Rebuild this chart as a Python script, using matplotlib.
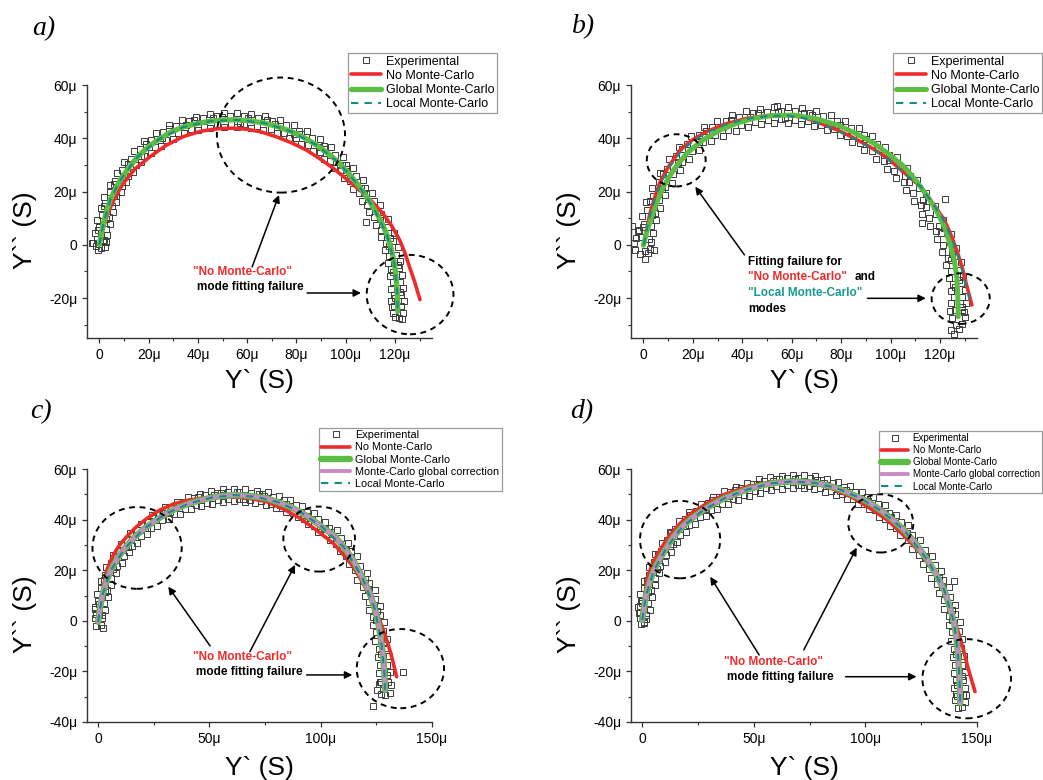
import numpy as np
import matplotlib
matplotlib.use("Agg")
import matplotlib.pyplot as plt
from matplotlib.patches import Ellipse
from matplotlib.ticker import MultipleLocator, FuncFormatter

plt.rcParams['font.family'] = ['Liberation Sans', 'DejaVu Sans']

W, H = 1043, 780

# =========================
# Data (values in micro-Siemens)
# =========================
# --- panel a ---
exp_a = [(-2.5, 0.5), (2.3, -0.8), (-0.5, -1.8), (1.5, 1.5), (-3.1, 0.6), (0.8, -1.2), (-1.5, -0.5), (2.6, 0.9),
         (-1.8, 4.5), (3.2, 3.5), (-0.4, 5.4), (-0.8, 9.2), (4.2, 7.9), (2.9, 9.6),
         (0.5, 13.9), (5.4, 12.2), (1.7, 14.6), (2.1, 18.1), (6.8, 15.9), (5.8, 18.2),
         (4.2, 22.4), (8.6, 19.7), (5.8, 22.7), (7.0, 26.8), (10.9, 23.4), (10.2, 25.6),
         (10.1, 30.9), (13.8, 27.2), (11.5, 30.5), (13.9, 35.2), (17.0, 31.0), (16.9, 33.5),
         (18.1, 38.8), (20.8, 34.3), (19.0, 37.9), (22.9, 41.9), (25.0, 37.2), (25.4, 40.2),
         (28.2, 44.8), (29.8, 39.9), (28.3, 43.5), (33.4, 46.8), (34.5, 41.8), (35.3, 44.9),
         (39.1, 48.1), (39.9, 43.1), (38.6, 46.7), (44.8, 49.1), (45.1, 43.9), (46.2, 47.6),
         (50.4, 49.6), (50.6, 44.4), (49.7, 48.0), (56.0, 49.5), (56.0, 44.3), (57.2, 45.7),
         (61.6, 49.2), (61.4, 44.0), (60.4, 47.7), (67.4, 48.4), (66.6, 43.2), (68.2, 46.8),
         (73.2, 46.9), (71.9, 41.8), (71.3, 45.4), (79.0, 45.1), (77.1, 40.1), (79.1, 41.6),
         (84.2, 42.7), (81.9, 38.0), (82.0, 41.5), (89.5, 39.8), (86.6, 35.3), (89.1, 36.7),
         (94.1, 36.7), (91.0, 32.4), (91.6, 35.8), (98.8, 33.0), (95.3, 29.0), (98.3, 30.0),
         (102.9, 28.9), (99.2, 25.2), (100.2, 28.3), (107.1, 24.2), (103.0, 20.9), (106.3, 21.5),
         (110.7, 19.5), (106.4, 16.6), (107.6, 19.3), (113.8, 14.9), (109.3, 12.2), (112.8, 12.6),
         (117.0, 9.6), (112.2, 7.5), (113.7, 9.9), (119.4, 4.3), (114.4, 2.8), (118.1, 2.6),
         (121.1, -1.0), (116.0, -2.0), (117.4, -0.3), (122.2, -6.2), (117.1, -6.8), (121.0, -7.6),
         (123.0, -11.3), (117.9, -11.7), (119.3, -10.3), (123.4, -16.4), (118.3, -16.6), (122.0, -17.6),
         (123.6, -21.0), (118.5, -21.0), (119.8, -19.9), (123.3, -25.8), (119.0, -25.5), (121.5, -27.5),
         (120.0, -27.2), (122.5, -23.5), (118.6, -23.2), (122.8, -28.0), (108.2, 8.7),
         (-1.1, 2.3), (1.9, 1.7), (-0.2, 6.6), (2.8, 5.9), (0.9, 11.2), (3.9, 10.3), (2.4, 15.6), (5.1, 14.4),
         (4.2, 19.7), (6.8, 18.3), (6.5, 23.9), (9.0, 22.1), (9.4, 28.0), (11.6, 26.0), (12.8, 32.1), (14.7, 29.9),
         (16.7, 36.0), (18.3, 33.5), (21.1, 39.3), (22.4, 36.7), (26.0, 42.3), (27.0, 39.5), (31.1, 44.7),
         (31.9, 41.8), (36.5, 46.3), (37.0, 43.4), (42.1, 47.5), (42.4, 44.4), (47.7, 48.2), (47.8, 45.1),
         (53.2, 48.4), (53.3, 45.4), (58.8, 48.2), (58.7, 45.2), (64.4, 47.6), (64.1, 44.6), (70.0, 46.5),
         (69.5, 43.5), (75.7, 44.8), (74.8, 42.0), (81.1, 42.8), (79.9, 40.0), (86.3, 40.2), (84.7, 37.6),
         (91.1, 37.2), (89.4, 34.8), (95.7, 33.9), (93.8, 31.6), (100.0, 30.1), (98.0, 27.9), (104.1, 25.7),
         (101.9, 23.8), (108.0, 21.2), (105.5, 19.3), (111.3, 16.5), (108.7, 15.0), (114.4, 11.7), (111.6, 10.3),
         (117.1, 6.5), (114.2, 5.5), (119.1, 1.4), (116.2, 0.6), (120.5, -3.8), (117.6, -4.2), (121.5, -8.9),
         (118.5, -9.1), (122.1, -14.0), (119.1, -14.0), (122.4, -18.7), (119.4, -18.8), (122.5, -23.0), (119.6, -23.0)]
red_a = [(0, 0), (1.5, 6), (3.5, 12), (6.5, 18), (10, 23.5), (14.5, 28.5), (20.6, 33.1), (27, 37.3),
         (34, 40.6), (41, 42.6), (48, 43.6), (54, 43.8), (60, 43.4), (66, 42.3), (72, 40.5), (78, 38.3),
         (84, 35.6), (90, 32), (95, 28.7), (100, 24.9), (105.6, 20.6), (110.5, 16.3), (115, 11.9),
         (118.7, 7), (121.8, 1.9), (124, -3), (125.8, -8.1), (128, -14), (130.1, -20.6)]
green_a = [(0, 0), (0.8, 4), (1.8, 8.5), (3, 13), (4.5, 17), (6.5, 21), (9, 25), (12, 29), (15.5, 33),
           (19.5, 36.5), (24, 39.5), (29, 42.3), (34, 44.2), (39.5, 45.5), (45, 46.4), (50.5, 46.9),
           (56, 46.9), (61.5, 46.5), (67, 45.7), (72.5, 44.3), (78, 42.5), (83, 40.3), (88, 37.5),
           (92.5, 34.5), (97, 31), (101, 27), (105, 22.5), (108.5, 18), (111.5, 13.5), (114.5, 8.5),
           (116.8, 3.5), (118.5, -1.5), (119.6, -6.5), (120.4, -11.5), (120.8, -16.5), (121, -21), (121.1, -25)]
teal_a = [(0, 0), (1.8, 8.5), (4.5, 17), (9, 25), (15.5, 33), (24, 39.5), (34, 44.2), (45, 46.4),
          (56, 46.9), (67, 45.7), (78, 42.5), (88, 37.5), (97, 31), (105, 22.5), (111.5, 13.5),
          (116.8, 3.5), (119.6, -6.5), (120.8, -16.5), (121.1, -25)]

# --- panel b ---
exp_b = [(-3.5, -2), (-2.8, 2.5), (-1.5, -3.5), (0.5, -5.5), (2.5, -1.5), (1.8, -3), (-4.5, 7.2), (-2, 5),
         (3, 1), (-3.8, 0.5), (0.8, -2.2), (4.2, -1.8),
         (-1.9, 5.6), (3.9, 4.4), (0, 6.8), (-0.6, 10.8), (5.2, 9.2), (3.6, 11.3),
         (1.2, 16.1), (6.8, 13.9), (2.7, 16.6), (3.6, 21.4), (8.8, 18.6), (7.7, 21),
         (6.6, 26.8), (11.4, 23.2), (8, 26.5), (10.3, 32.1), (14.7, 27.9), (14, 30.6),
         (14.6, 36.8), (18.4, 32.2), (15.6, 35.9), (19.4, 40.9), (22.6, 35.7), (22.5, 38.5),
         (24.7, 44.2), (27.3, 38.8), (25.2, 42.8), (29.9, 46.6), (32.1, 41), (32.4, 44.3),
         (35.7, 48.6), (37.3, 42.8), (35.6, 46.9), (41.5, 50.1), (42.5, 44.3), (43.3, 48),
         (47.2, 51.1), (47.8, 45.3), (46.4, 49.3), (53, 51.6), (53, 45.8), (54.3, 49.9), (54, 52.3),
         (58.5, 51.7), (58.5, 45.9), (57.3, 47.5), (64.2, 51.3), (63.8, 45.5), (65.2, 49.6),
         (70, 50.3), (69, 44.5), (68.3, 48.6), (75.8, 48.6), (74.2, 43), (76.2, 44.7),
         (81.6, 46.5), (79.4, 41.1), (79.5, 45.1), (87.4, 43.8), (84.6, 38.6), (87.2, 40.2),
         (92.7, 40.7), (89.3, 35.7), (90, 39.6), (97.9, 36.9), (94.1, 32.3), (97.3, 33.6),
         (102.5, 33), (98.5, 28.6), (99.3, 32), (106.7, 29), (102.3, 25), (105.9, 25.8),
         (110.8, 24.4), (106.2, 20.6), (107.3, 23.7), (114.5, 19.6), (109.5, 16.4), (113.3, 16.8),
         (118.1, 14.7), (112.9, 11.7), (114.3, 14.3), (121.2, 9.4), (115.8, 7), (119.8, 7.1),
         (124.3, 4), (118.7, 2), (120.3, 4.3), (126.7, -1.3), (120.9, -2.7), (125, -3.2),
         (128.4, -6.5), (122.6, -7.5), (124.3, -5.8), (129.4, -11.7), (123.6, -12.3), (127.8, -13.2),
         (130.1, -16.8), (124.3, -17.2), (125.9, -15.8), (130.4, -22), (124.6, -22), (128.8, -23.2),
         (125, -27.5), (130, -27), (126.5, -30), (128.8, -29.8), (124.5, -32), (127.7, -31.5),
         (125.8, -33.5), (129.6, -25.2), (124.2, -25), (112.7, 8.3), (122.2, 17.2),
         (-1.1, 2.8), (2.1, 2.2), (0.1, 7.9), (3.2, 7.1), (1.6, 13), (4.7, 12), (3.7, 18.2), (6.5, 16.8),
         (6.3, 23.4), (8.9, 21.6), (9.5, 28.5), (12, 26.5), (13.4, 33.4), (15.6, 31.1), (17.8, 37.7),
         (19.7, 35.1), (22.7, 41.3), (24.3, 38.5), (27.9, 44.1), (29.1, 41.2), (33.3, 46.3), (34.2, 43.2),
         (38.9, 48), (39.6, 44.9), (44.5, 49.3), (45, 46.1), (50.2, 50), (50.3, 46.9), (55.8, 50.3),
         (55.7, 47.2), (61.3, 50.2), (61.2, 47), (67, 49.5), (66.5, 46.3), (72.6, 48.2), (71.9, 45),
         (78.3, 46.3), (77.2, 43.3), (83.9, 44), (82.6, 41), (89.3, 41.1), (87.7, 38.3), (94.4, 37.7),
         (92.6, 35.1), (99.3, 33.9), (97.2, 31.5), (103.6, 30), (101.4, 27.8), (107.7, 25.8), (105.3, 23.7),
         (111.5, 21.2), (109, 19.3), (115.1, 16.4), (112.4, 14.8), (118.4, 11.4), (115.6, 10), (121.5, 6.2),
         (118.5, 5), (124.2, 0.9), (121.1, 0.1), (126.2, -4.2), (123.1, -4.8), (127.6, -9.3), (124.4, -9.7),
         (128.5, -14.4), (125.3, -14.6), (129, -19.5), (125.8, -19.5), (129.1, -24.5), (125.9, -24.5)]
red_b = [(0.3, 0), (1.2, 5.5), (2.7, 11.8), (4.5, 17.5), (6.8, 23.7), (10.3, 29.5), (14.9, 35.6), (20, 39.5),
         (25.7, 42.5), (33, 45.3), (42, 47.5), (50, 48.5), (58.2, 48.7), (65, 47.8), (71.7, 45.6), (78, 43.3),
         (85, 40.2), (92, 36.6), (98.8, 32.5), (105, 27.5), (112.3, 21.8), (117, 15.8), (121.8, 9.3),
         (124.8, 3), (127.2, -3.2), (129, -8.5), (130.6, -14.5), (132.9, -22.6)]
green_b = [(0, -0.2), (1.5, 5.2), (3.4, 10.6), (5.6, 16.3), (8.1, 21.8), (12.5, 28.5), (17.6, 34.4),
           (24, 39.3), (31.1, 43.1), (38, 45.7), (44.7, 47.5), (52, 48.5), (60.9, 48.7), (70, 47.3),
           (78.5, 45), (86, 41.8), (93.3, 38.1), (99.5, 33.9), (105.5, 29.3), (110.5, 23.9), (115, 18.1),
           (118.8, 12.4), (121.8, 6.8), (124, 0.5), (125.8, -5.7), (126.8, -12), (127.2, -18), (127.4, -27)]
teal_b = [(0.2, 0), (1.3, 5.5), (2.9, 11.8), (4.8, 17.5), (7.2, 23.5), (10.8, 29.4), (15.3, 35.2),
          (20.5, 39.2), (26, 42.3), (33.2, 45.1), (42, 47.3), (50, 48.3), (58.2, 48.5), (65, 47.6),
          (71.7, 45.4), (78, 43.1), (85, 40), (92, 36.4), (98.8, 32.3), (105, 27.4), (112.3, 21.7),
          (117, 15.7), (121.5, 9.2), (124.5, 3), (126.9, -3.2), (128.7, -8.5), (130.3, -14.5), (132.5, -22.3)]

# --- panel c ---
exp_c = [(-1.2, 1), (1.5, -1.5), (-0.8, -2), (2.4, -3), (0.5, 2.5), (-1.5, 4.5), (1.8, 1.2),
         (-1.6, 5.6), (3.2, 4.4), (0.2, 6.5), (-0.5, 10.7), (4.3, 9.3), (2.9, 11.2),
         (1.2, 15.9), (5.8, 14.1), (2.5, 16.3), (3.5, 21.2), (7.9, 18.8), (6.8, 20.5),
         (6.5, 26), (10.5, 23), (7.8, 25.8), (10.2, 30.4), (13.8, 27), (13.3, 29.2),
         (14.4, 34.7), (17.6, 30.9), (15.1, 34), (19.1, 38.4), (21.9, 34.2), (21.8, 36.8),
         (24.4, 41.7), (26.6, 37.3), (24.7, 40.7), (29.9, 44.8), (31.7, 40.2), (32.1, 43),
         (35.3, 47.1), (36.7, 42.3), (35.1, 45.9), (40.5, 48.8), (41.5, 44), (42.2, 47.3),
         (45.7, 50.2), (46.3, 45.3), (45, 48.9), (50.9, 51.2), (51.1, 46.2), (52.2, 49.6),
         (56, 51.9), (56, 46.9), (55, 50.5), (61, 52.2), (61, 47.2), (62.2, 50.8),
         (66.1, 52), (65.9, 47), (65, 48.2), (71.3, 51.5), (70.7, 46.5), (72.2, 50.1),
         (76.2, 50.9), (75.2, 45.9), (74.6, 49.5), (81.2, 49.4), (79.8, 44.6), (81.6, 45.9),
         (86.4, 47.7), (84.6, 42.9), (84.3, 46.3), (91.8, 45.3), (89.6, 40.9), (91.9, 42),
         (96.8, 42.5), (94.2, 38.3), (94.3, 41.5), (102, 39.2), (99, 35.2), (101.8, 36.2),
         (107.3, 35.8), (104.1, 32), (104.7, 35), (112.1, 30.9), (108.5, 27.5), (111.4, 28),
         (116.5, 25.6), (112.7, 22.4), (113.6, 25.1), (120.6, 18.8), (116.4, 16.2), (119.7, 16.4),
         (124.3, 12), (119.9, 9.8), (121.2, 12.1), (126.6, 5.7), (121.8, 4.3), (125.3, 3.9),
         (128.4, -0.5), (123.4, -1.5), (124.9, 0.2), (129.6, -7.2), (124.6, -7.8), (128.2, -8.6),
         (130.6, -14), (125.6, -14.4), (127.1, -13), (131.1, -20.4), (126.1, -20.6), (129.7, -21.6),
         (126, -25), (125.5, -27.5), (127, -29), (129, -29.5), (131.2, -28.5), (131.5, -25.5),
         (128, -26.8), (126.8, -24), (136.8, -20.1), (123.4, -33.7),
         (-1.1, 2.5), (1.9, 2.1), (-0.1, 7.8), (2.8, 7.2), (1.3, 13), (4.1, 12), (3.2, 18.1), (6, 16.9),
         (5.8, 23), (8.4, 21.5), (9.1, 27.6), (11.4, 25.6), (12.9, 31.8), (15.1, 29.7), (17.3, 35.7),
         (19.2, 33.4), (22.2, 39.2), (23.8, 36.6), (27.4, 42.3), (28.9, 39.7), (32.8, 45), (34, 42.2),
         (38, 47), (39, 44.1), (43.1, 48.5), (43.9, 45.6), (48.2, 49.7), (48.8, 46.7), (53.3, 50.5),
         (53.7, 47.6), (58.5, 51), (58.5, 48.1), (63.5, 51.1), (63.5, 48.1), (68.6, 50.7), (68.4, 47.8),
         (73.5, 50.2), (73.2, 47.2), (78.5, 49.1), (77.7, 46.3), (83.5, 47.6), (82.5, 44.7), (88.7, 45.6),
         (87.5, 42.8), (93.8, 43.1), (92.4, 40.4), (98.8, 40.1), (97.2, 37.5), (103.9, 36.8), (102.3, 34.3),
         (109.1, 32.6), (106.9, 30.5), (113.6, 27.6), (111.3, 25.6), (117.8, 21.5), (115.3, 20), (121.6, 14.9),
         (119, 13.5), (124.6, 8.5), (121.7, 7.4), (126.5, 2.4), (123.6, 1.6), (128, -4), (125, -4.5),
         (129.1, -10.7), (126.1, -11), (129.9, -17.3), (126.8, -17.4), (130.3, -24), (127.2, -24)]
red_c = [(0, 0.5), (0.9, 6), (2.2, 13), (3.9, 20.1), (6.5, 25.5), (9.5, 29.8), (12.8, 33.2), (17, 37),
         (22, 40.5), (27.8, 43.8), (34, 46.2), (40, 47.6), (45.8, 48.4), (53, 48.9), (60.7, 49), (68, 48.4),
         (75.7, 47.1), (83, 44.3), (90.7, 40.5), (98, 35.9), (105.7, 30.6), (110.5, 25.8), (114.6, 21.4),
         (118.5, 15.6), (122.1, 9.5), (125.3, 3), (128.1, -3.6), (130.2, -9), (131.9, -14.2), (134.1, -22.1)]
green_c = [(0, -0.4), (0.8, 5), (1.9, 10), (3.5, 15), (5.7, 20), (8.5, 24.5), (12, 28.7), (16, 32.8),
           (20.5, 36.3), (25.5, 39.5), (30.8, 42.5), (36, 44.7), (41, 46.4), (46, 47.7), (51, 48.7),
           (56, 49.4), (61, 49.7), (66, 49.5), (71, 49), (75.7, 48.4), (80.5, 47), (85.5, 45.3),
           (90.7, 43.1), (95.5, 40.4), (100.5, 37.2), (105.7, 33.9), (110.3, 29.2), (114.6, 24),
           (118.5, 17.5), (122.1, 10.9), (124.2, 5), (125.9, -1), (127.1, -7.5), (128.1, -14.2),
           (128.6, -20.5), (128.9, -27.4)]
violet_c = green_c
teal_c = [(0, -0.4), (1.9, 10), (5.7, 20), (12, 28.7), (20.5, 36.3), (30.8, 42.5), (41, 46.4), (51, 48.7),
          (61, 49.7), (71, 49), (80.5, 47), (90.7, 43.1), (100.5, 37.2), (110.3, 29.2), (118.5, 17.5),
          (124.2, 5), (127.1, -7.5), (128.6, -20.5), (128.9, -27.4)]

# --- panel d ---
exp_d = [(-1, 1), (1, -0.8), (-0.5, -1.2), (1.5, 0.8), (-1.4, 3), (0.6, -0.3), (-1, 6), (-0.3, 8),
         (-1.7, 5.6), (3.3, 4.4), (0.1, 6.9), (-0.8, 10.7), (4.2, 9.3), (2.7, 11.3),
         (0.8, 15.9), (5.6, 14.1), (2.2, 16.3), (3, 21.2), (7.6, 18.8), (6.5, 20.6),
         (5.9, 26.3), (10.1, 23.1), (7.3, 26), (9.1, 30.8), (12.9, 27.2), (12.3, 29.5),
         (12.3, 35.2), (15.7, 31.2), (13.1, 34.6), (16.5, 39.3), (19.5, 35.1), (19.3, 37.6),
         (21.2, 43), (23.8, 38.4), (21.6, 42), (26.4, 46.1), (28.6, 41.5), (28.8, 44.3),
         (31.6, 48.9), (33.4, 44.1), (31.5, 47.6), (36.7, 51.2), (38.3, 46.2), (38.8, 49.3),
         (41.9, 52.9), (43.1, 47.9), (41.4, 51.7), (47, 54.6), (48, 49.4), (48.7, 52.7),
         (52.2, 55.9), (52.8, 50.7), (51.4, 54.2), (57.4, 56.9), (57.6, 51.7), (58.7, 55.1),
         (62.5, 57.4), (62.5, 52.2), (61.5, 55.9), (67.5, 57.7), (67.5, 52.5), (68.6, 56),
         (72.5, 57.6), (72.3, 52.4), (71.3, 53.8), (77.6, 57.1), (77.2, 51.9), (78.5, 55.5),
         (82.8, 56.2), (82, 51), (81.3, 54.6), (87.9, 55), (86.9, 49.8), (88.5, 51.3),
         (93.1, 53.1), (91.7, 48.1), (91.3, 51.7), (98.3, 51.1), (96.5, 46.1), (98.6, 47.6),
         (103.4, 48.8), (101.4, 44), (101.3, 47.5), (108.6, 45.6), (106.2, 41), (108.6, 42.2),
         (113.8, 42), (111, 37.6), (111.3, 41), (118.9, 38), (115.7, 33.8), (118.5, 34.8),
         (124.6, 32.1), (121, 28.3), (122, 31.4), (129.9, 25.7), (125.9, 22.3), (126.7, 25.1),
         (134, 19.6), (129.6, 16.8), (132.9, 17), (137.6, 13.4), (133, 11), (134.3, 13.4),
         (140.2, 6.3), (135.4, 4.7), (138.9, 4.4), (142.3, -0.5), (137.3, -1.5), (138.8, 0.2),
         (143.4, -7.2), (138.4, -7.8), (142, -8.7), (144.1, -14), (139.1, -14.4), (140.6, -13),
         (144.5, -20.4), (139.5, -20.6), (143.1, -21.7), (144.8, -26.5), (139.8, -26.5), (141.2, -25.3),
         (140, -31.5), (144.6, -32), (141.5, -34.5), (143.5, -34), (140.5, -29), (144.9, -29.5),
         (139.8, 15.9),
         (-1.1, 2.9), (1.9, 2.4), (-0.2, 7.8), (2.7, 7.2), (1, 12.9), (3.9, 12.1), (2.9, 18.1), (5.6, 16.9),
         (5.3, 23.1), (8, 21.6), (8.3, 27.7), (10.7, 26), (11.3, 32), (13.7, 30.2), (14.9, 36.3), (17.1, 34.1),
         (19.3, 40.1), (21.2, 37.8), (24.2, 43.5), (25.8, 41), (29.3, 46.5), (30.7, 43.8), (34.4, 49),
         (35.6, 46.2), (39.5, 51), (40.5, 48.1), (44.5, 52.6), (45.5, 49.8), (49.6, 54.1), (50.4, 51.2),
         (54.7, 55.3), (55.3, 52.3), (59.9, 56), (60.1, 53.1), (65, 56.5), (65, 53.5), (70, 56.6), (69.9, 53.5),
         (75, 56.3), (74.8, 53.3), (80.2, 55.5), (79.6, 52.6), (85.3, 54.5), (84.5, 51.5), (90.4, 52.9),
         (89.4, 50.1), (95.5, 51), (94.3, 48.2), (100.5, 48.9), (99.3, 46.1), (105.7, 46.1), (104.1, 43.6),
         (110.8, 42.8), (109, 40.3), (115.8, 39), (113.9, 36.7), (121.1, 34.1), (119, 32), (126.5, 28.1),
         (124.2, 26.1), (131.1, 21.9), (128.6, 20.3), (134.8, 16), (132.3, 14.4), (138, 9.4), (135.1, 8.3),
         (140.2, 2.7), (137.4, 1.8), (141.8, -4), (138.9, -4.5), (142.8, -10.7), (139.7, -11), (143.3, -17.3),
         (140.3, -17.4), (143.7, -23.5), (140.6, -23.5), (143.9, -29.5), (140.9, -29.6)]
red_d = [(0, 0.3), (0.9, 8), (2.1, 16.1), (4.5, 22.5), (8, 28), (12, 33.5), (17, 38.5), (22.5, 42.8),
         (29, 46.4), (37, 50), (47, 53), (56, 54.6), (65, 55), (72.5, 54.6), (79.9, 53.7), (87, 51.6),
         (94.9, 48.4), (102, 44.5), (109.9, 39.8), (117, 33.9), (124.8, 26.7), (130.5, 19.5), (135, 12.5),
         (138.5, 4), (141.3, -3.6), (143.8, -11), (145.8, -18.1), (149.1, -28)]
green_d = [(0, 0.3), (0.8, 5), (1.7, 10), (3.2, 15), (5.3, 20), (8, 24.7), (11, 29), (14, 33.2), (18, 37.2),
           (22.5, 40.7), (27.5, 43.8), (32.5, 46.5), (37.5, 48.7), (42.5, 50.4), (47.5, 52), (52.5, 53.3),
           (57.5, 54.3), (62.5, 54.8), (67.5, 55.1), (72.4, 55), (77.4, 54.5), (82.4, 53.6), (87.4, 52.4),
           (92.4, 50.6), (97.4, 48.6), (102.4, 46.4), (107.4, 43.3), (112.4, 39.8), (117.3, 35.9),
           (122.8, 30.2), (127.9, 24), (131.8, 18.2), (135.3, 12.2), (137.8, 5.5), (139.8, -1),
           (140.9, -7.5), (141.6, -14.2), (142, -20.5), (142.3, -26.5), (142.5, -32.6)]
violet_d = green_d
teal_d = [(0, 0.3), (1.7, 10), (5.3, 20), (11, 29), (18, 37.2), (27.5, 43.8), (37.5, 48.7), (47.5, 52),
          (57.5, 54.3), (67.5, 55.1), (77.4, 54.5), (87.4, 52.4), (97.4, 48.6), (107.4, 43.3),
          (117.3, 35.9), (127.9, 24), (135.3, 12.2), (139.8, -1), (141.6, -14.2), (142.3, -26.5), (142.5, -32.6)]

LABELS = ["Experimental", "No Monte-Carlo", "Global Monte-Carlo",
          "Monte-Carlo global correction", "Local Monte-Carlo"]

RED = '#ee2b2b'
GREEN = '#5cbd43'
VIOLET = '#c78bc8'
TEAL = '#178a8a'
TEAL_TXT = '#1a9a90'


def xy(pts):
    a = np.array(pts, dtype=float)
    return a[:, 0], a[:, 1]


def add_axes_px(fig, l, t, r, b):
    return fig.add_axes([l / W, 1 - b / H, (r - l) / W, (b - t) / H])


def mu_fmt(v, pos):
    if abs(v) < 1e-9:
        return "0"
    return f"{v:g}μ"


def style_axes(ax, xlim, ylim, xmaj, xlab_y):
    ax.set_xlim(*xlim)
    ax.set_ylim(*ylim)
    for s in ('top', 'right'):
        ax.spines[s].set_visible(False)
    for s in ('left', 'bottom'):
        ax.spines[s].set_linewidth(1.0)
        ax.spines[s].set_color('#333333')
    ax.xaxis.set_major_locator(MultipleLocator(xmaj))
    ax.xaxis.set_minor_locator(MultipleLocator(xmaj / 2))
    ax.yaxis.set_major_locator(MultipleLocator(20))
    ax.yaxis.set_minor_locator(MultipleLocator(10))
    ax.xaxis.set_major_formatter(FuncFormatter(mu_fmt))
    ax.yaxis.set_major_formatter(FuncFormatter(mu_fmt))
    ax.tick_params(which='major', direction='out', length=3.6, width=0.9, labelsize=10,
                   pad=3.5, color='#333333')
    ax.tick_params(which='minor', direction='out', length=2.0, width=0.8, color='#333333')
    ax.set_xlabel("Y` (S)", fontsize=19)
    ax.set_ylabel("Y`` (S)", fontsize=19)
    ax.xaxis.set_label_coords(0.5, xlab_y)
    ax.yaxis.set_label_coords(-0.145, 0.427)


def draw_data(ax, exp, red, green, teal, violet=None, lw_green=3.6):
    ex, ey = xy(exp)
    h = []
    h += ax.plot(ex, ey, 's', ms=4.0, mfc='none', mec='#3c3c3c', mew=0.7, zorder=2, label=LABELS[0])
    rx, ry = xy(red)
    h += ax.plot(rx, ry, '-', color=RED, lw=2.6, solid_capstyle='round', zorder=3, label=LABELS[1])
    gx, gy = xy(green)
    h += ax.plot(gx, gy, '-', color=GREEN, lw=lw_green, solid_capstyle='round', zorder=4, label=LABELS[2])
    if violet is not None:
        vx, vy = xy(violet)
        h += ax.plot(vx, vy, '-', color=VIOLET, lw=2.8, solid_capstyle='round', zorder=5, label=LABELS[3])
    tx, ty = xy(teal)
    h += ax.plot(tx, ty, color=TEAL, lw=1.5, ls=(0, (3.5, 3)), zorder=6, label=LABELS[4])
    return h


def circle(ax, cx, cy, w, h):
    ax.add_patch(Ellipse((cx, cy), w, h, fill=False, ec='black', lw=1.4,
                         ls=(0, (3, 2.4)), clip_on=False, zorder=8))


def arrow(ax, x0, y0, x1, y1):
    ax.annotate('', xy=(x1, y1), xytext=(x0, y0),
                arrowprops=dict(arrowstyle='-|>', color='black', lw=1.1,
                                mutation_scale=11, shrinkA=0, shrinkB=0),
                annotation_clip=False, zorder=9)


def legend(ax, handles, left, top, fs, hl, ls):
    leg = ax.legend(handles=handles, loc='upper left',
                    bbox_to_anchor=(left / W, 1 - top / H), bbox_transform=ax.figure.transFigure,
                    fontsize=fs, frameon=True, fancybox=False, framealpha=1, edgecolor='#9a9a9a',
                    borderpad=0.2, handlelength=hl, handletextpad=0.45, labelspacing=ls,
                    borderaxespad=0, numpoints=1)
    leg.get_frame().set_linewidth(0.9)
    return leg


fig = plt.figure(figsize=(W / 100, H / 100), dpi=100)

# ---------- a ----------
ax = add_axes_px(fig, 87, 85, 432, 338)
style_axes(ax, (-5, 135), (-35, 60), 20, -0.123)
hs = draw_data(ax, exp_a, red_a, green_a, teal_a, lw_green=3.8)
legend(ax, hs, 348, 53, 9, 2.4, 0.18)
circle(ax, 73.7, 41.2, 52, 43.2)
circle(ax, 126.1, -18.7, 35.2, 29.8)
kw = dict(fontsize=8.5, fontweight='bold', ha='center', va='center', zorder=10)
ax.text(57.9, -10.2, '"No Monte-Carlo"', color=RED, **kw)
ax.text(61.2, -15.8, 'mode fitting failure', color='black', **kw)
arrow(ax, 62, -8.3, 72.9, 18.7)
arrow(ax, 84.3, -18.1, 106.2, -18.1)

# ---------- b ----------
ax = add_axes_px(fig, 631, 85, 977, 338)
style_axes(ax, (-5, 135), (-35, 60), 20, -0.123)
hs = draw_data(ax, exp_b, red_b, green_b, teal_b, lw_green=3.6)
legend(ax, hs, 893, 53, 9, 2.4, 0.18)
circle(ax, 13.3, 31.7, 23.8, 19.6)
circle(ax, 128.4, -20.2, 23.5, 19.0)
kl = dict(fontsize=8.5, fontweight='bold', ha='left', va='center', zorder=10)
ax.text(42.4, -6.3, 'Fitting failure for', color='black', **kl)
ax.text(42.4, -12.2, '"No Monte-Carlo"', color=RED, **kl)
ax.text(85.6, -12.2, 'and', color='black', **kl)
ax.text(42.4, -18.2, '"Local Monte-Carlo"', color=TEAL_TXT, **kl)
ax.text(42.4, -24.1, 'modes', color='black', **kl)
arrow(ax, 40.9, -3.8, 21.0, 21.8)
arrow(ax, 90.7, -20.1, 114.3, -20.1)

# ---------- c ----------
ax = add_axes_px(fig, 87, 469, 432, 722)
style_axes(ax, (-5, 150), (-40, 60), 50, -0.135)
hs = draw_data(ax, exp_c, red_c, green_c, teal_c, violet=violet_c, lw_green=4.6)
legend(ax, hs, 319, 428, 7.8, 2.7, 0.2)
circle(ax, 17.5, 28.8, 40.1, 32.3)
circle(ax, 99.3, 32.3, 32.2, 25.7)
circle(ax, 135.8, -18.9, 39.2, 31.3)
ax.text(64.8, -14.2, '"No Monte-Carlo"', color=RED, **kw)
ax.text(67.8, -20.4, 'mode fitting failure', color='black', **kw)
arrow(ax, 50.3, -9.9, 31.5, 13.5)
arrow(ax, 68.2, -12.2, 88.5, 22.1)
arrow(ax, 93.7, -21.4, 114.2, -21.4)

# ---------- d ----------
ax = add_axes_px(fig, 631, 469, 977, 722)
style_axes(ax, (-5, 150), (-40, 60), 50, -0.135)
hs = draw_data(ax, exp_d, red_d, green_d, teal_d, violet=violet_d, lw_green=4.6)
legend(ax, hs, 879, 431, 7.0, 2.8, 0.22)
circle(ax, 17.0, 32.1, 35.9, 30.6)
circle(ax, 106.9, 38.5, 29.1, 23.0)
circle(ax, 145.4, -22.9, 39.7, 31.3)
ax.text(58.9, -16.2, '"No Monte-Carlo"', color=RED, **kw)
ax.text(61.9, -22.3, 'mode fitting failure', color='black', **kw)
arrow(ax, 52.4, -13.5, 30.5, 17.4)
arrow(ax, 72.4, -11.5, 96.1, 28.9)
arrow(ax, 91.1, -22.1, 122.9, -22.1)

# panel letters
for lab, x, y in [('a)', 32, 35), ('b)', 572, 33), ('c)', 30, 418), ('d)', 570, 418)]:
    fig.text(x / W, 1 - y / H, lab, fontsize=20, fontstyle='italic',
             fontfamily=['Liberation Serif', 'DejaVu Serif'], va='baseline', ha='left')

fig.savefig('out.png', dpi=100)
